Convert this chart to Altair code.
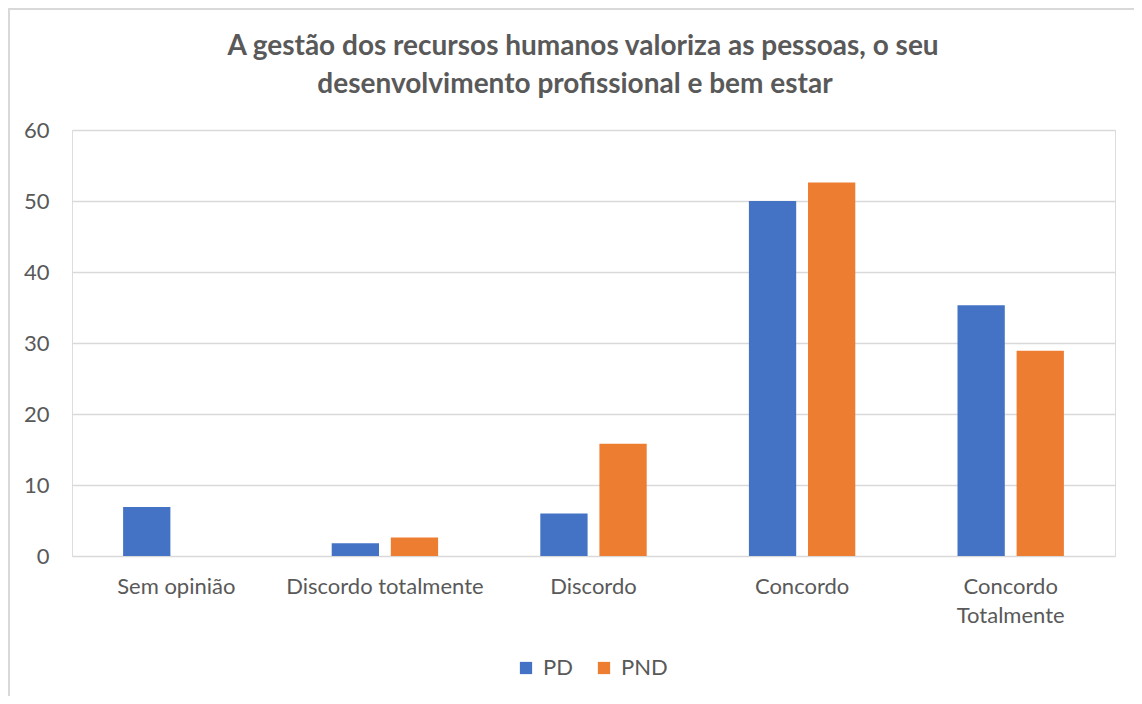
import altair as alt
import pandas as pd

categories = ["Sem opinião", "Discordo totalmente", "Discordo", "Concordo", "Concordo Totalmente"]
pd_values = [6.9, 1.8, 6.0, 50.0, 35.3]
pnd_values = [0.0, 2.6, 15.8, 52.6, 28.9]
series = ["PD", "PND"]
colors = ["#4472C4", "#ED7D31"]
y_ticks = [0, 10, 20, 30, 40, 50, 60]
title_lines = ["A gestão dos recursos humanos valoriza as pessoas, o seu",
               "desenvolvimento profissional e bem estar"]

rows = []
for c, a, b in zip(categories, pd_values, pnd_values):
    rows.append({"cat": c, "serie": "PD", "valor": a})
    rows.append({"cat": c, "serie": "PND", "valor": b})
df = pd.DataFrame(rows)

FONT = "Lato"
GRAY = "#595959"

bars = alt.Chart(df).mark_bar().encode(
    x=alt.X("cat:N", sort=categories, title=None,
            scale=alt.Scale(paddingInner=0.49, paddingOuter=0.245),
            axis=alt.Axis(labelAngle=0, ticks=False, domain=False, grid=False,
                          labelPadding=20, labelFontSize=22, labelColor=GRAY,
                          labelFont=FONT, labelLineHeight=29, labelBaseline="top",
                          labelLimit=400,
                          labelExpr="datum.label == 'Concordo Totalmente' ? ['Concordo', 'Totalmente'] : datum.label")),
    xOffset=alt.XOffset("serie:N", sort=series,
                        scale=alt.Scale(paddingInner=0.2, paddingOuter=0)),
    y=alt.Y("valor:Q", title=None,
            scale=alt.Scale(domain=[0, 60], nice=False),
            axis=alt.Axis(values=y_ticks, ticks=False, domain=False, grid=True,
                          gridColor="#d9d9d9", gridWidth=1.3, labelPadding=23,
                          labelFontSize=22, labelColor=GRAY, labelFont=FONT)),
    color=alt.Color("serie:N", sort=series,
                    scale=alt.Scale(domain=series, range=colors),
                    legend=alt.Legend(orient="none", direction="horizontal",
                                      legendX=443, legendY=527, title=None,
                                      padding=0,
                                      symbolType="square", symbolSize=150,
                                      symbolStrokeWidth=0,
                                      labelFontSize=22, labelColor=GRAY, labelFont=FONT,
                                      columnPadding=20, labelOffset=6)),
)

frame_df = pd.DataFrame({"k": [0]})
frame_left = alt.Chart(frame_df).mark_rule(color="#d9d9d9", strokeWidth=2).encode(
    x=alt.value(-63), y=alt.value(-123), y2=alt.value(600))
frame_top = alt.Chart(frame_df).mark_rule(color="#d9d9d9", strokeWidth=2).encode(
    x=alt.value(-64), x2=alt.value(1100), y=alt.value(-121))

title1 = alt.Chart(pd.DataFrame({"t": [title_lines[0]]})).mark_text(
    font=FONT, fontSize=28, fontWeight="bold", color=GRAY, align="center", baseline="middle"
).encode(text="t:N", x=alt.value(511), y=alt.value(-83))
title2 = alt.Chart(pd.DataFrame({"t": [title_lines[1]]})).mark_text(
    font=FONT, fontSize=28, fontWeight="bold", color=GRAY, align="center", baseline="middle"
).encode(text="t:N", x=alt.value(503), y=alt.value(-45))

chart = alt.layer(frame_left, frame_top, title1, title2, bars).properties(
    width=1043,
    height=426,
    autosize=alt.AutoSizeParams(type="none"),
    padding={"left": 64, "top": 122, "right": 19, "bottom": 140},
).configure_view(strokeWidth=0).configure(background="white")

chart.save("out.html", embed_options={"renderer": "svg", "actions": False})
